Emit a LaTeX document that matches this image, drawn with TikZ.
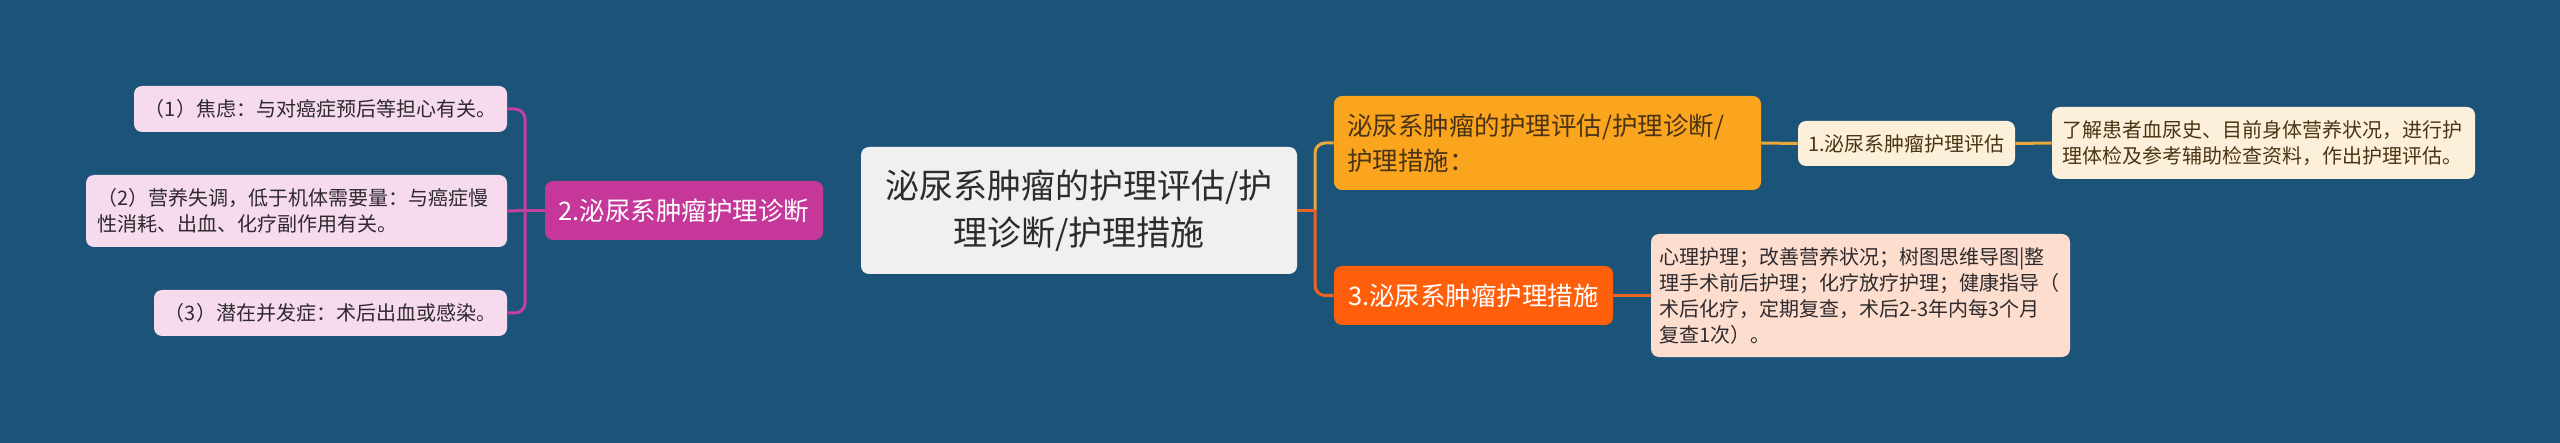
\documentclass[tikz,border=0pt]{standalone}
\usepackage{fontspec}
\setmainfont{Noto Sans CJK SC}
\definecolor{bg}{HTML}{1B5478}
\definecolor{cMag}{HTML}{C5389A}
\definecolor{cLeafL}{HTML}{F6DAEE}
\definecolor{cCenter}{HTML}{F0F0F0}
\definecolor{cOrange}{HTML}{FBA51F}
\definecolor{cRed}{HTML}{FF5F0A}
\definecolor{cCream}{HTML}{FDF0DA}
\definecolor{cPeach}{HTML}{FDDDCE}
\definecolor{cYelLine}{HTML}{E8A83C}
\definecolor{cRedLine}{HTML}{EC6420}
\definecolor{cMagLine}{HTML}{C53FA0}
\definecolor{tDark}{HTML}{2E2A2E}
\definecolor{tBrown}{HTML}{4A3414}
\begin{document}
\begin{tikzpicture}[x=0.5pt,y=-0.5pt,
  box/.style={rounded corners=4pt, inner sep=0pt},
  centerbox/.style={box, fill=cCenter, text=tDark, align=center,
    font=\fontsize{17}{23.5}\selectfont},
  magbox/.style={box, fill=cMag, text=white, align=center,
    font=\fontsize{12.75}{16}\selectfont},
  redbox/.style={box, fill=cRed, text=white, align=center,
    font=\fontsize{12.75}{16}\selectfont},
  orbox/.style={box, fill=cOrange, text=tBrown, align=left,
    font=\fontsize{12.75}{17.5}\selectfont},
  leafl/.style={box, fill=cLeafL, text=tDark,
    font=\fontsize{10}{13}\selectfont},
  creambox/.style={box, fill=cCream, text=tBrown,
    font=\fontsize{10}{12.8}\selectfont},
  peachbox/.style={box, fill=cPeach, text=tDark, align=left,
    font=\fontsize{10}{13}\selectfont},
  magline/.style={draw=cMagLine, line width=1.5pt},
  yelline/.style={draw=cYelLine, line width=1.5pt},
  redline/.style={draw=cRedLine, line width=1.5pt}
]
\fill[bg] (0,0) rectangle (2560,443);
\useasboundingbox (0,0) rectangle (2560,443);

% center
\node[centerbox, minimum width=218pt, minimum height=63.5pt] (C) at (1079,210.5)
  {泌尿系肿瘤的护理评估/护\\理诊断/护理措施};

% left branch
\node[magbox, minimum width=139pt, minimum height=29.5pt] (N2) at (684,210.5)
  {2.泌尿系肿瘤护理诊断};
\node[leafl, align=center, minimum width=186.5pt, minimum height=23pt] (L1) at (320.5,109)
  {（1）焦虑：与对癌症预后等担心有关。};
\node[leafl, align=left, text width=199pt, inner xsep=5.75pt, minimum height=36pt] (L2) at (296.5,211)
  {（2）营养失调，低于机体需要量：与癌症慢\\性消耗、出血、化疗副作用有关。};
\node[leafl, align=center, minimum width=176.5pt, minimum height=23pt] (L3) at (330.5,313)
  {（3）潜在并发症：术后出血或感染。};

% right branch
\node[orbox, text width=200.5pt, inner xsep=6.5pt, minimum height=47pt] (O) at (1547.5,143)
  {泌尿系肿瘤的护理评估/护理诊断/\\护理措施：};
\node[redbox, minimum width=139.5pt, minimum height=29.5pt] (N3) at (1473.5,295.5)
  {3.泌尿系肿瘤护理措施};
\node[creambox, align=center, minimum width=108.5pt, minimum height=22.5pt] (N1) at (1906.5,143.5)
  {1.泌尿系肿瘤护理评估};
\node[creambox, align=left, text width=201pt, inner xsep=5.25pt, minimum height=36pt] (R) at (2263.5,143)
  {了解患者血尿史、目前身体营养状况，进行护\\理体检及参考辅助检查资料，作出护理评估。};
\node[peachbox, text width=201pt, inner xsep=4.25pt, minimum height=61.5pt] (B) at (1860.5,295.5)
  {心理护理；改善营养状况；树图思维导图|整\\理手术前后护理；化疗放疗护理；健康指导（\\术后化疗，定期复查，术后2-3年内每3个月\\复查1次）。};

% connectors left
\coordinate (jl) at (525,210.5);
\draw[magline] (N2.west) -- (jl);
\draw[magline] (jl) -- (L2.east);
\draw[magline, rounded corners=5pt] (jl) |- (L1.east);
\draw[magline, rounded corners=5pt] (jl) |- (L3.east);

% connectors right
\coordinate (jr) at (1315,210.5);
\draw[yelline, rounded corners=5pt] (jr) |- (O.west);
\draw[redline, rounded corners=5pt] (jr) |- (N3.west);
\draw[redline] (C.east) -- (jr);
\draw[yelline] (O.east) -- (N1.west);
\draw[yelline] (N1.east) -- (R.west);
\draw[redline] (N3.east) -- (B.west);
\end{tikzpicture}
\end{document}
